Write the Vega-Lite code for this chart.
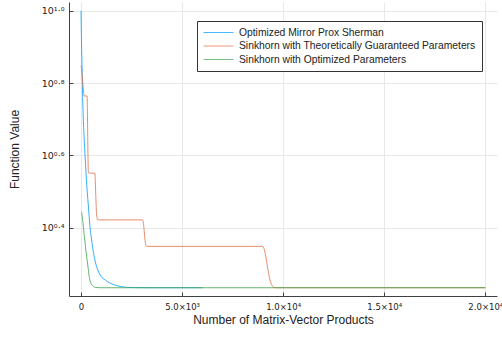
{
  "$schema": "https://vega.github.io/schema/vega-lite/v6.json",
  "autosize": {"type": "none"},
  "padding": {"left": 69, "top": 2, "right": 5, "bottom": 41},
  "width": 428,
  "height": 294,
  "background": "white",
  "config": {
    "font": "Liberation Sans",
    "view": {"stroke": null},
    "axis": {
      "gridColor": "#e8e8e8",
      "gridWidth": 1,
      "domainColor": "#404040",
      "domainWidth": 1,
      "tickColor": "#404040",
      "tickSize": -4,
      "labelColor": "#222222",
      "titleColor": "#222222",
      "titleFontWeight": "normal",
      "labelFont": "DejaVu Sans",
      "titleFont": "Liberation Sans"
    }
  },
  "data": {
    "values": [
      {"x": 0, "y": 10.0, "s": "Optimized Mirror Prox Sherman"},
      {"x": 25, "y": 8.2, "s": "Optimized Mirror Prox Sherman"},
      {"x": 50, "y": 7.0, "s": "Optimized Mirror Prox Sherman"},
      {"x": 75, "y": 6.0, "s": "Optimized Mirror Prox Sherman"},
      {"x": 100, "y": 5.3, "s": "Optimized Mirror Prox Sherman"},
      {"x": 150, "y": 4.5, "s": "Optimized Mirror Prox Sherman"},
      {"x": 200, "y": 3.98, "s": "Optimized Mirror Prox Sherman"},
      {"x": 250, "y": 3.55, "s": "Optimized Mirror Prox Sherman"},
      {"x": 300, "y": 3.2, "s": "Optimized Mirror Prox Sherman"},
      {"x": 350, "y": 2.95, "s": "Optimized Mirror Prox Sherman"},
      {"x": 400, "y": 2.72, "s": "Optimized Mirror Prox Sherman"},
      {"x": 450, "y": 2.5, "s": "Optimized Mirror Prox Sherman"},
      {"x": 500, "y": 2.38, "s": "Optimized Mirror Prox Sherman"},
      {"x": 600, "y": 2.17, "s": "Optimized Mirror Prox Sherman"},
      {"x": 700, "y": 2.03, "s": "Optimized Mirror Prox Sherman"},
      {"x": 800, "y": 1.94, "s": "Optimized Mirror Prox Sherman"},
      {"x": 900, "y": 1.88, "s": "Optimized Mirror Prox Sherman"},
      {"x": 1000, "y": 1.84, "s": "Optimized Mirror Prox Sherman"},
      {"x": 1200, "y": 1.8, "s": "Optimized Mirror Prox Sherman"},
      {"x": 1400, "y": 1.77, "s": "Optimized Mirror Prox Sherman"},
      {"x": 1600, "y": 1.75, "s": "Optimized Mirror Prox Sherman"},
      {"x": 1800, "y": 1.735, "s": "Optimized Mirror Prox Sherman"},
      {"x": 2000, "y": 1.725, "s": "Optimized Mirror Prox Sherman"},
      {"x": 2300, "y": 1.718, "s": "Optimized Mirror Prox Sherman"},
      {"x": 2700, "y": 1.715, "s": "Optimized Mirror Prox Sherman"},
      {"x": 3500, "y": 1.714, "s": "Optimized Mirror Prox Sherman"},
      {"x": 6000, "y": 1.714, "s": "Optimized Mirror Prox Sherman"},

      {"x": 0, "y": 7.05, "s": "Sinkhorn with Theoretically Guaranteed Parameters"},
      {"x": 30, "y": 6.9, "s": "Sinkhorn with Theoretically Guaranteed Parameters"},
      {"x": 80, "y": 6.4, "s": "Sinkhorn with Theoretically Guaranteed Parameters"},
      {"x": 130, "y": 5.95, "s": "Sinkhorn with Theoretically Guaranteed Parameters"},
      {"x": 160, "y": 5.81, "s": "Sinkhorn with Theoretically Guaranteed Parameters"},
      {"x": 300, "y": 5.81, "s": "Sinkhorn with Theoretically Guaranteed Parameters"},
      {"x": 310, "y": 5.6, "s": "Sinkhorn with Theoretically Guaranteed Parameters"},
      {"x": 330, "y": 4.6, "s": "Sinkhorn with Theoretically Guaranteed Parameters"},
      {"x": 350, "y": 3.8, "s": "Sinkhorn with Theoretically Guaranteed Parameters"},
      {"x": 370, "y": 3.56, "s": "Sinkhorn with Theoretically Guaranteed Parameters"},
      {"x": 690, "y": 3.55, "s": "Sinkhorn with Theoretically Guaranteed Parameters"},
      {"x": 700, "y": 3.45, "s": "Sinkhorn with Theoretically Guaranteed Parameters"},
      {"x": 730, "y": 3.1, "s": "Sinkhorn with Theoretically Guaranteed Parameters"},
      {"x": 760, "y": 2.8, "s": "Sinkhorn with Theoretically Guaranteed Parameters"},
      {"x": 800, "y": 2.66, "s": "Sinkhorn with Theoretically Guaranteed Parameters"},
      {"x": 830, "y": 2.64, "s": "Sinkhorn with Theoretically Guaranteed Parameters"},
      {"x": 3050, "y": 2.64, "s": "Sinkhorn with Theoretically Guaranteed Parameters"},
      {"x": 3080, "y": 2.6, "s": "Sinkhorn with Theoretically Guaranteed Parameters"},
      {"x": 3120, "y": 2.48, "s": "Sinkhorn with Theoretically Guaranteed Parameters"},
      {"x": 3160, "y": 2.34, "s": "Sinkhorn with Theoretically Guaranteed Parameters"},
      {"x": 3200, "y": 2.26, "s": "Sinkhorn with Theoretically Guaranteed Parameters"},
      {"x": 3250, "y": 2.23, "s": "Sinkhorn with Theoretically Guaranteed Parameters"},
      {"x": 9000, "y": 2.23, "s": "Sinkhorn with Theoretically Guaranteed Parameters"},
      {"x": 9050, "y": 2.2, "s": "Sinkhorn with Theoretically Guaranteed Parameters"},
      {"x": 9150, "y": 2.08, "s": "Sinkhorn with Theoretically Guaranteed Parameters"},
      {"x": 9250, "y": 1.92, "s": "Sinkhorn with Theoretically Guaranteed Parameters"},
      {"x": 9350, "y": 1.8, "s": "Sinkhorn with Theoretically Guaranteed Parameters"},
      {"x": 9450, "y": 1.74, "s": "Sinkhorn with Theoretically Guaranteed Parameters"},
      {"x": 9550, "y": 1.716, "s": "Sinkhorn with Theoretically Guaranteed Parameters"},
      {"x": 9650, "y": 1.714, "s": "Sinkhorn with Theoretically Guaranteed Parameters"},
      {"x": 20000, "y": 1.714, "s": "Sinkhorn with Theoretically Guaranteed Parameters"},

      {"x": 30, "y": 2.77, "s": "Sinkhorn with Optimized Parameters"},
      {"x": 60, "y": 2.7, "s": "Sinkhorn with Optimized Parameters"},
      {"x": 100, "y": 2.58, "s": "Sinkhorn with Optimized Parameters"},
      {"x": 150, "y": 2.42, "s": "Sinkhorn with Optimized Parameters"},
      {"x": 200, "y": 2.28, "s": "Sinkhorn with Optimized Parameters"},
      {"x": 250, "y": 2.15, "s": "Sinkhorn with Optimized Parameters"},
      {"x": 300, "y": 2.05, "s": "Sinkhorn with Optimized Parameters"},
      {"x": 350, "y": 1.95, "s": "Sinkhorn with Optimized Parameters"},
      {"x": 400, "y": 1.85, "s": "Sinkhorn with Optimized Parameters"},
      {"x": 450, "y": 1.79, "s": "Sinkhorn with Optimized Parameters"},
      {"x": 500, "y": 1.76, "s": "Sinkhorn with Optimized Parameters"},
      {"x": 600, "y": 1.73, "s": "Sinkhorn with Optimized Parameters"},
      {"x": 700, "y": 1.718, "s": "Sinkhorn with Optimized Parameters"},
      {"x": 900, "y": 1.714, "s": "Sinkhorn with Optimized Parameters"},
      {"x": 20000, "y": 1.714, "s": "Sinkhorn with Optimized Parameters"}
    ]
  },
  "mark": {"type": "line", "strokeWidth": 1, "strokeOpacity": 0.8, "clip": true, "interpolate": "monotone"},
  "encoding": {
    "x": {
      "field": "x",
      "type": "quantitative",
      "scale": {"domain": [-594, 20579], "nice": false, "zero": false},
      "axis": {
        "title": "Number of Matrix-Vector Products",
        "titleFontSize": 12,
        "titlePadding": 4,
        "labelFontSize": 8.5,
        "labelPadding": 10,
        "values": [0, 5000, 10000, 15000, 20000],
        "labelExpr": "datum.value == 0 ? '0' : datum.value == 5000 ? '5.0×10³' : datum.value == 10000 ? '1.0×10⁴' : datum.value == 15000 ? '1.5×10⁴' : '2.0×10⁴'",
        "grid": true
      }
    },
    "y": {
      "field": "y",
      "type": "quantitative",
      "scale": {"type": "log", "domain": [1.626, 10.57], "nice": false, "zero": false},
      "axis": {
        "title": "Function Value",
        "titleFontSize": 12,
        "titlePadding": 20,
        "labelFontSize": 9.5,
        "labelPadding": 9,
        "values": [2.5119, 3.9811, 6.3096, 10],
        "labelExpr": "datum.value > 9 ? '10¹·⁰' : datum.value > 6 ? '10⁰·⁸' : datum.value > 3.5 ? '10⁰·⁶' : '10⁰·⁴'",
        "grid": true
      }
    },
    "color": {
      "field": "s",
      "type": "nominal",
      "sort": null,
      "scale": {
        "domain": ["Optimized Mirror Prox Sherman", "Sinkhorn with Theoretically Guaranteed Parameters", "Sinkhorn with Optimized Parameters"],
        "range": ["#009AFA", "#E36F47", "#3EA44E"]
      },
      "legend": {
        "title": null,
        "orient": "none",
        "legendX": 128,
        "legendY": 19,
        "symbolType": "M-1,0H5",
        "symbolSize": 100,
        "symbolStrokeWidth": 1,
        "symbolOpacity": 0.7,
        "labelFontSize": 10.3,
        "labelOffset": 25,
        "labelLimit": 400,
        "labelColor": "#222222",
        "rowPadding": 2.5,
        "padding": 6,
        "strokeColor": "#333333",
        "fillColor": "white"
      }
    }
  }
}
